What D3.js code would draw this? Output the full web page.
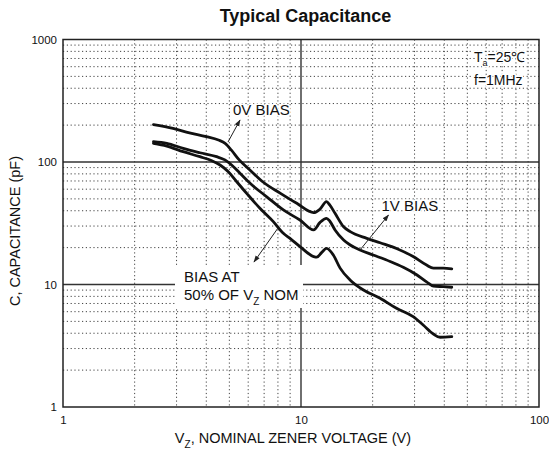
<!DOCTYPE html>
<html>
<head>
<meta charset="utf-8">
<script src="https://cdn.jsdelivr.net/npm/d3@7"></script>
<style>
  body { margin: 0; background: #fff; }
  text { font-family: "Liberation Sans", Arial, sans-serif; fill: #111; }
</style>
</head>
<body>
<svg id="chart" width="549" height="455"></svg>
<script>
// ---- data ----
const xTickValues = [1, 10, 100];
const yTickValues = [1, 10, 100, 1000];

const vz0V = [2.4, 2.9, 3.4, 4.0, 4.5, 4.8, 5.1, 5.5, 6.1, 6.9, 8.2, 9.6, 11.3, 12.0, 12.8, 13.2, 13.9, 15.1, 16.1, 18.9, 21.5, 25.2, 29.6, 33.7, 36.0, 39.6, 43.0];
const cap0V = [202, 188, 173, 161, 151, 142, 125, 104, 86, 69, 55.5, 46, 38.6, 41.1, 47.4, 44.6, 38.1, 29.6, 27.0, 23.8, 21.9, 19.7, 16.9, 14.4, 13.6, 13.6, 13.4];

const vz1V = [2.4, 2.73, 3.2, 3.76, 4.42, 4.79, 5.11, 5.54, 6.11, 7.18, 8.43, 9.9, 11.3, 12.0, 12.8, 13.2, 13.9, 15.1, 16.1, 17.7, 20.1, 23.7, 26.9, 30.6, 33.7, 36.0, 39.6, 43.0];
const cap1V = [146.5, 142, 129, 119, 110.5, 104, 94.5, 81, 67, 52, 40.6, 33.6, 27.9, 32.0, 34.7, 33.0, 27.9, 23.1, 21.0, 19.1, 17.4, 15.4, 13.8, 12.0, 10.5, 9.7, 9.6, 9.5];

const vz50 = [2.4, 2.73, 3.2, 3.76, 4.22, 4.57, 4.95, 5.37, 5.91, 6.72, 7.65, 8.43, 8.99, 9.9, 11.3, 11.64, 12.2, 12.8, 13.67, 14.6, 16.07, 18.3, 21.5, 25.2, 29.6, 32.6, 36.0, 38.4, 43.0];
const cap50 = [142, 135, 121.4, 110.5, 102.5, 94.5, 83.3, 69, 55.5, 41.9, 32.6, 26.2, 23.8, 20.4, 16.9, 16.7, 18.2, 19.7, 17.4, 13.6, 10.9, 9.02, 7.72, 6.39, 5.46, 4.67, 3.94, 3.71, 3.75];

const xMinor = [2,3,4,5,6,7,8,9,20,30,40,50,60,70,80,90];
const yMinor = [2,3,4,5,6,7,8,9,20,30,40,50,60,70,80,90,200,300,400,500,600,700,800,900];
const xMajor = [10];
const yMajor = [10, 100];

// ---- layout ----
const svg = d3.select("#chart");
const L = 63, R = 539, T = 39.5, B = 407;
const x = d3.scaleLog().domain([1, 100]).range([L, R]);
const y = d3.scaleLog().domain([1, 1000]).range([B, T]);

// defs: arrow marker
svg.append("defs").append("marker")
  .attr("id", "arr").attr("viewBox", "0 0 10 10")
  .attr("refX", 9).attr("refY", 5)
  .attr("markerWidth", 7).attr("markerHeight", 7)
  .attr("markerUnits", "userSpaceOnUse")
  .attr("orient", "auto")
  .append("path").attr("d", "M0,1.5 L10,5 L0,8.5 Z").attr("fill", "#222");

// minor dotted grid
const grid = svg.append("g");
grid.selectAll(".vx").data(xMinor).join("line")
  .attr("x1", d => x(d)).attr("x2", d => x(d)).attr("y1", T).attr("y2", B)
  .attr("stroke", "#444").attr("stroke-width", 1).attr("stroke-dasharray", "1.2,2.6");
grid.selectAll(".hy").data(yMinor).join("line")
  .attr("y1", d => y(d)).attr("y2", d => y(d)).attr("x1", L).attr("x2", R)
  .attr("stroke", "#444").attr("stroke-width", 1).attr("stroke-dasharray", "1.2,2.6");
// major solid grid
grid.selectAll(".mx").data(xMajor).join("line")
  .attr("x1", d => x(d)).attr("x2", d => x(d)).attr("y1", T).attr("y2", B)
  .attr("stroke", "#333").attr("stroke-width", 1.4);
grid.selectAll(".my").data(yMajor).join("line")
  .attr("y1", d => y(d)).attr("y2", d => y(d)).attr("x1", L).attr("x2", R)
  .attr("stroke", "#333").attr("stroke-width", 1.4);

// frame
svg.append("rect").attr("x", L).attr("y", T).attr("width", R - L).attr("height", B - T)
  .attr("fill", "none").attr("stroke", "#222").attr("stroke-width", 1.5);

// axes
const yAxis = svg.append("g").attr("transform", `translate(${L},0)`)
  .call(d3.axisLeft(y).tickValues(yTickValues).tickSize(0).tickPadding(6).tickFormat(d3.format("d")));
yAxis.select(".domain").remove();
yAxis.selectAll("text").attr("font-size", "11.5px").attr("font-family", "Liberation Sans, Arial, sans-serif").attr("fill", "#111");

const xAxis = svg.append("g").attr("transform", `translate(0,${B})`)
  .call(d3.axisBottom(x).tickValues(xTickValues).tickSize(0).tickPadding(9).tickFormat(d3.format("d")));
xAxis.select(".domain").remove();
xAxis.selectAll("text").attr("font-size", "11.5px").attr("font-family", "Liberation Sans, Arial, sans-serif").attr("fill", "#111");

// title
svg.append("text").attr("x", 305.5).attr("y", 22).attr("text-anchor", "middle")
  .attr("font-size", "18px").attr("font-weight", "bold").text("Typical Capacitance");

// axis titles
const xt = svg.append("text").attr("x", 293).attr("y", 443).attr("text-anchor", "middle").attr("font-size", "14.5px");
xt.append("tspan").text("V");
xt.append("tspan").attr("font-size", "10px").attr("dy", 5).text("Z");
xt.append("tspan").attr("dy", -5).text(", NOMINAL ZENER VOLTAGE (V)");

svg.append("text").attr("transform", "translate(20,231) rotate(-90)")
  .attr("text-anchor", "middle").attr("font-size", "14.5px").text("C, CAPACITANCE (pF)");

// white box behind the 50% label
svg.append("rect").attr("x", 175).attr("y", 265).attr("width", 128).attr("height", 43).attr("fill", "#fff");

// curves
const line = d3.line().x(d => x(d[0])).y(d => y(d[1])).curve(d3.curveMonotoneX);
const series = [d3.zip(vz0V, cap0V), d3.zip(vz1V, cap1V), d3.zip(vz50, cap50)];
svg.append("g").selectAll("path").data(series).join("path")
  .attr("d", line).attr("fill", "none").attr("stroke", "#111")
  .attr("stroke-width", 2.8).attr("stroke-linejoin", "round").attr("stroke-linecap", "round");

// annotations
function halo(sel) {
  return sel.attr("stroke", "#fff").attr("stroke-width", 3).attr("paint-order", "stroke");
}
halo(svg.append("text").attr("x", 233).attr("y", 114.5).attr("font-size", "15px").text("0V BIAS"));
halo(svg.append("text").attr("x", 381.5).attr("y", 210.5).attr("font-size", "15px").text("1V BIAS"));

svg.append("text").attr("x", 184).attr("y", 282).attr("font-size", "15px").text("BIAS AT");
const t50 = svg.append("text").attr("x", 184).attr("y", 300).attr("font-size", "15px");
t50.append("tspan").text("50% OF V");
t50.append("tspan").attr("font-size", "10px").attr("dy", 5).text("Z");
t50.append("tspan").attr("dy", -5).text(" NOM");

const ta = halo(svg.append("text").attr("x", 474).attr("y", 62).attr("font-size", "14px"));
ta.append("tspan").text("T");
ta.append("tspan").attr("font-size", "9px").attr("dy", 4).text("a");
ta.append("tspan").attr("dy", -4).text("=25℃");
halo(svg.append("text").attr("x", 474).attr("y", 85).attr("font-size", "14px").text("f=1MHz"));

// arrows
const arrows = [[228, 142, 240, 120], [360, 250, 388.5, 215], [278, 228, 254, 262]];
svg.append("g").selectAll("line").data(arrows).join("line")
  .attr("x1", d => d[0]).attr("y1", d => d[1]).attr("x2", d => d[2]).attr("y2", d => d[3])
  .attr("stroke", "#222").attr("stroke-width", 1).attr("marker-end", "url(#arr)");
</script>
</body>
</html>
